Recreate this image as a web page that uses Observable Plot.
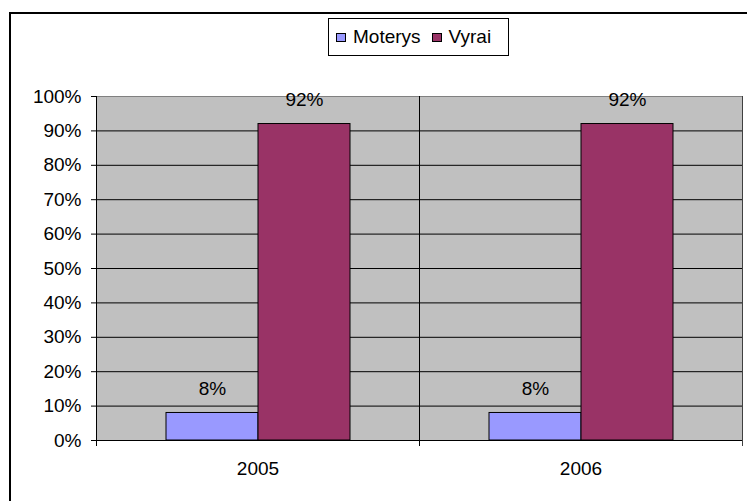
<!DOCTYPE html>
<html><head><meta charset="utf-8">
<script src="https://cdn.jsdelivr.net/npm/d3@7"></script>
<script src="https://cdn.jsdelivr.net/npm/@observablehq/plot@0.6"></script>
<style>
html,body{margin:0;padding:0;background:#fff;overflow:hidden;width:747px;height:501px;}
#wrap{position:relative;width:747px;height:501px;font-family:Arial,"Liberation Sans",sans-serif;overflow:hidden;}
#wrap svg{position:absolute;left:0;top:0;}
#border{position:absolute;left:9px;top:12px;width:760px;height:520px;border:2px solid #000;box-sizing:border-box;}
#legend{position:absolute;left:328px;top:18px;width:181px;height:38px;border:1px solid #000;background:#fff;box-sizing:border-box;display:flex;align-items:center;padding-left:7px;font-size:19px;color:#000;}
.sw{display:inline-block;width:10px;height:9px;border:1px solid #000;box-sizing:border-box;margin-right:7px;}
.item{display:flex;align-items:center;margin-right:11px;}
</style>
</head><body>
<div id="wrap"><div id="border"></div></div>
<script>
const years = ["2005", "2006"];
const series = ["Moterys", "Vyrai"];
const moterys = [0.08, 0.08];
const vyrai = [0.92, 0.92];
const colors = ["#9999FF", "#993366"];
const yTicks = [0, 0.1, 0.2, 0.3, 0.4, 0.5, 0.6, 0.7, 0.8, 0.9, 1.0];
const gridLines = [0.1, 0.2, 0.3, 0.4, 0.5, 0.6, 0.7, 0.8, 0.9];

const rows = [];
years.forEach((yr, i) => {
  rows.push({year: yr, series: series[0], value: moterys[i]});
  rows.push({year: yr, series: series[1], value: vyrai[i]});
});
const pct = d3.format(".0%");

const chart = Plot.plot({
  width: 747, height: 501,
  marginLeft: 96, marginRight: 5, marginTop: 96, marginBottom: 61,
  style: {fontFamily: 'Arial, "Liberation Sans", sans-serif', fontSize: "19px", color: "#000", background: "transparent", overflow: "visible"},
  fx: {domain: years, padding: 0, label: null, tickSize: 0, tickPadding: 21, axis: "bottom"},
  x: {domain: series, paddingInner: 0, paddingOuter: 0.738, axis: null},
  y: {domain: [0, 1], ticks: yTicks, tickFormat: pct, tickSize: 5, tickPadding: 10, label: null},
  color: {domain: series, range: colors},
  marks: [
    Plot.frame({fill: "#c0c0c0", stroke: "#808080"}),
    Plot.ruleY(gridLines, {stroke: "#000", strokeWidth: 1}),
    Plot.frame({anchor: "right", stroke: "#404040", insetBottom: -5}),
    Plot.frame({anchor: "left", stroke: "#000", insetBottom: -5}),
    Plot.barY(rows, {fx: "year", x: "series", y: "value", fill: "series", stroke: "#000", strokeWidth: 1}),
    Plot.ruleY([0], {stroke: "#000"}),
    Plot.text(rows, {fx: "year", x: "series", y: "value", text: d => pct(d.value), dy: -24, fontSize: 19, fill: "#000"})
  ]
});
const wrap = document.getElementById("wrap");
wrap.insertBefore(chart, wrap.firstChild);

const legend = document.createElement("div");
legend.id = "legend";
series.forEach((s, i) => {
  const item = document.createElement("span");
  item.className = "item";
  const sw = document.createElement("span");
  sw.className = "sw";
  sw.style.background = colors[i];
  item.appendChild(sw);
  item.appendChild(document.createTextNode(s));
  legend.appendChild(item);
});
wrap.appendChild(legend);
</script>
</body></html>
